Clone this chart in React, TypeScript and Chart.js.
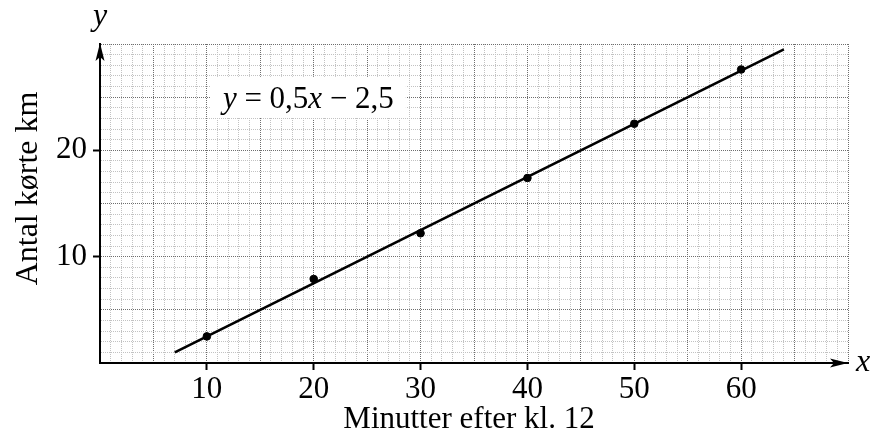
import React, { useEffect, useRef } from 'react';
import { Chart, registerables } from 'chart.js';

Chart.register(...registerables);

// ---- data ----
const minutes = [10, 20, 30, 40, 50, 60];
const kmDriven = [2.5, 7.9, 12.2, 17.4, 22.5, 27.6];
const fitLineX = [7, 64];
const fitLineY = [1, 29.5];
const xLabelledTicks = [10, 20, 30, 40, 50, 60];
const yLabelledTicks = [10, 20];
const xTitle = 'Minutter efter kl. 12';
const yTitle = 'Antal kørte km';
const xAxisLetter = 'x';
const yAxisLetter = 'y';
const equationParts = [
  { text: 'y', italic: true },
  { text: ' = 0,5', italic: false },
  { text: 'x', italic: true },
  { text: ' \u2212 2,5', italic: false },
];

const SERIF = '"Liberation Serif", "Times New Roman", serif';

function gridColor(v: number) {
  if (v % 5 === 0) return '#6e6e6e';
  return '#c2c2c2';
}

const decorations = {
  id: 'decorations',
  beforeDatasetsDraw(chart: any) {
    const { ctx, scales } = chart;
    const xs = scales.x;
    const ys = scales.y;
    // equation label with white box
    const fontSize = 31;
    let total = 0;
    const widths: number[] = [];
    for (const p of equationParts) {
      ctx.font = `${p.italic ? 'italic ' : ''}${fontSize}px ${SERIF}`;
      const w = ctx.measureText(p.text).width;
      widths.push(w);
      total += w;
    }
    const cx = xs.getPixelForValue(19.5);
    const baseY = ys.getPixelForValue(24.0);
    ctx.save();
    ctx.fillStyle = '#ffffff';
    ctx.fillRect(cx - total / 2 - 12, baseY - 31, total + 24, 41);
    ctx.fillStyle = '#000';
    ctx.textBaseline = 'alphabetic';
    ctx.textAlign = 'left';
    let x = cx - total / 2;
    equationParts.forEach((p, i) => {
      ctx.font = `${p.italic ? 'italic ' : ''}${fontSize}px ${SERIF}`;
      ctx.fillText(p.text, x, baseY);
      x += widths[i];
    });
    ctx.restore();
  },
  afterDraw(chart: any) {
    const { ctx, chartArea } = chart;
    const { left, right, top, bottom } = chartArea;
    ctx.save();
    ctx.fillStyle = '#000';
    // y-axis arrow
    ctx.beginPath();
    ctx.moveTo(left, top - 1);
    ctx.lineTo(left + 4.5, top + 17);
    ctx.lineTo(left, top + 13);
    ctx.lineTo(left - 4.5, top + 17);
    ctx.closePath();
    ctx.fill();
    // x-axis arrow
    ctx.beginPath();
    ctx.moveTo(right, bottom);
    ctx.lineTo(right - 18, bottom - 4.5);
    ctx.lineTo(right - 14, bottom);
    ctx.lineTo(right - 18, bottom + 4.5);
    ctx.closePath();
    ctx.fill();
    // axis letters
    ctx.font = `italic 32px ${SERIF}`;
    ctx.textBaseline = 'alphabetic';
    ctx.textAlign = 'left';
    ctx.fillText(xAxisLetter, right + 8, bottom + 8);
    ctx.textAlign = 'center';
    ctx.fillText(yAxisLetter, left, top - 19);
    // axis titles
    ctx.font = `31px ${SERIF}`;
    ctx.textAlign = 'center';
    ctx.fillText(xTitle, (left + right) / 2 - 5, bottom + 65);
    ctx.translate(37, (top + bottom) / 2 - 15);
    ctx.rotate(-Math.PI / 2);
    ctx.font = `32px ${SERIF}`;
    ctx.fillText(yTitle, 0, 0);
    ctx.restore();
  },
};

export default function App() {
  const canvasRef = useRef<HTMLCanvasElement | null>(null);

  useEffect(() => {
    if (!canvasRef.current) return;
    const chart = new Chart(canvasRef.current, {
      type: 'scatter',
      data: {
        datasets: [
          {
            type: 'line',
            data: fitLineX.map((x, i) => ({ x, y: fitLineY[i] })),
            borderColor: '#000',
            borderWidth: 2.6,
            pointRadius: 0,
            fill: false,
            order: 2,
          } as any,
          {
            type: 'scatter',
            data: minutes.map((x, i) => ({ x, y: kmDriven[i] })),
            backgroundColor: '#000',
            borderColor: '#000',
            pointRadius: 3.8,
            order: 1,
          },
        ],
      },
      options: {
        animation: false,
        responsive: false,
        maintainAspectRatio: false,
        layout: { padding: { top: 44, right: 22, left: 0, bottom: 0 } },
        plugins: {
          legend: { display: false },
          tooltip: { enabled: false },
        },
        scales: {
          x: {
            type: 'linear',
            min: 0,
            max: 70,
            afterFit: (s: any) => {
              s.height = 76;
            },
            ticks: {
              stepSize: 1,
              autoSkip: false,
              maxRotation: 0,
              padding: 1,
              color: '#000',
              font: { family: SERIF, size: 31 },
              callback: (v: any) => (xLabelledTicks.includes(Number(v)) ? String(v) : ''),
            },
            grid: {
              color: (c: any) => gridColor(c.tick ? c.tick.value : 0),
              lineWidth: 1,
              tickLength: 7,
              tickWidth: 2,
              tickColor: (c: any) =>
                c.tick && xLabelledTicks.includes(c.tick.value) ? '#000' : 'rgba(0,0,0,0)',
            },
            border: { display: true, color: '#000', width: 2, dash: [1, 1] },
          },
          y: {
            type: 'linear',
            min: 0,
            max: 30,
            afterFit: (s: any) => {
              s.width = 100;
            },
            ticks: {
              stepSize: 1,
              autoSkip: false,
              padding: 6,
              color: '#000',
              font: { family: SERIF, size: 31 },
              callback: (v: any) => (yLabelledTicks.includes(Number(v)) ? String(v) : ''),
            },
            grid: {
              color: (c: any) => gridColor(c.tick ? c.tick.value : 0),
              lineWidth: 1,
              tickLength: 7,
              tickWidth: 2,
              tickColor: (c: any) =>
                c.tick && yLabelledTicks.includes(c.tick.value) ? '#000' : 'rgba(0,0,0,0)',
            },
            border: { display: true, color: '#000', width: 2, dash: [1, 1] },
          },
        },
      },
      plugins: [decorations],
    });
    return () => chart.destroy();
  }, []);

  return (
    <div style={{ position: 'fixed', left: 0, top: 0, width: 870, height: 439, background: '#fff' }}>
      <canvas ref={canvasRef} width={870} height={439} style={{ width: 870, height: 439, display: 'block' }} />
    </div>
  );
}
